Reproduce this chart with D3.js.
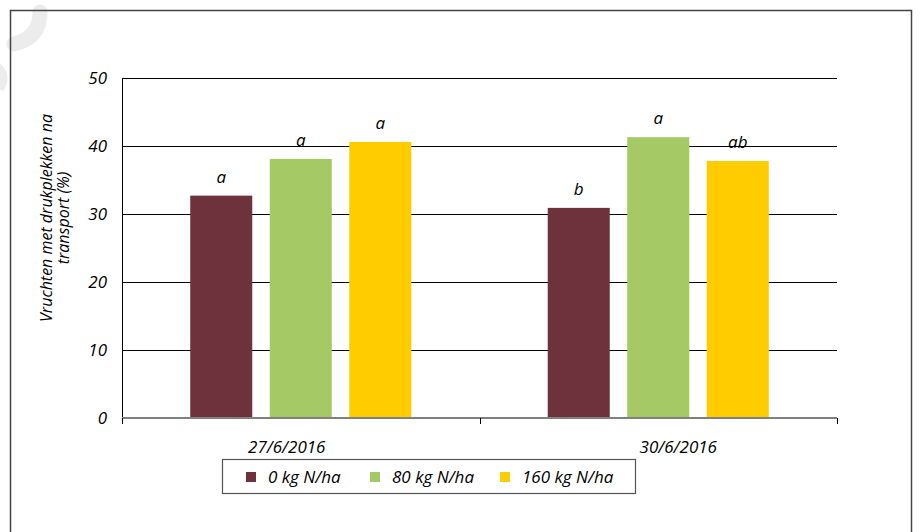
<!DOCTYPE html>
<html>
<head>
<meta charset="utf-8">
<script src="https://cdn.jsdelivr.net/npm/d3@7"></script>
<style>
  body { margin: 0; background: #fff; }
  svg text { font-family: "Open Sans", sans-serif; font-style: italic; fill: #000; }
</style>
</head>
<body>
<svg id="chart" width="922" height="532"></svg>
<script>
// data
const dates = ["27/6/2016", "30/6/2016"];
const series = ["0 kg N/ha", "80 kg N/ha", "160 kg N/ha"];
const colors = ["#6d323b", "#a5c965", "#ffcc00"];
const values = [
    [32.7, 38.1, 40.6],   // 27/6/2016
    [30.9, 41.3, 37.8]    // 30/6/2016
];
const letters = [
    ["a", "a", "a"],
    ["b", "a", "ab"]
];
const yTicks = [0, 10, 20, 30, 40, 50];

const fs = 17;
const svg = d3.select("#chart");

// light watermark in the corner
svg.append("path")
    .attr("d", "M 40 12 Q 40 38 14 44")
    .attr("fill", "none").attr("stroke", "#ececec")
    .attr("stroke-width", 15).attr("stroke-linecap", "round");
svg.append("path")
    .attr("d", "M -4 68 Q 6 76 -2 88")
    .attr("fill", "none").attr("stroke", "#ececec")
    .attr("stroke-width", 12);

// outer frame
svg.append("rect")
    .attr("x", 10.5).attr("y", 10.5)
    .attr("width", 901).attr("height", 540)
    .attr("fill", "none").attr("stroke", "#444").attr("stroke-width", 1.5);

const plotL = 122, plotR = 837, plotT = 78, plotB = 418;

const y = d3.scaleLinear().domain([0, 50]).range([plotB, plotT]);
const x0 = d3.scaleBand().domain(dates).range([plotL, plotR]);
const x1 = d3.scaleBand().domain(series).range([0, x0.bandwidth()])
    .paddingInner(0.22).paddingOuter(0.858);

// y axis with gridlines
const yAxis = svg.append("g")
    .attr("transform", `translate(${plotL},0)`)
    .call(d3.axisLeft(y).tickValues(yTicks).tickSize(-(plotR - plotL)).tickPadding(15));
yAxis.select(".domain").remove();
yAxis.selectAll(".tick line").attr("stroke", "#000").attr("stroke-width", 1);
yAxis.selectAll(".tick text")
    .attr("font-size", fs).attr("font-style", "italic")
    .attr("font-family", "Open Sans, sans-serif").attr("fill", "#000");

svg.append("line")
    .attr("x1", plotL + 0.5).attr("x2", plotL + 0.5)
    .attr("y1", plotT).attr("y2", plotB + 6)
    .attr("stroke", "#000");

// bars
const groups = svg.selectAll(".grp").data(values).join("g")
    .attr("class", "grp")
    .attr("transform", (d, i) => `translate(${x0(dates[i])},0)`);

groups.selectAll("rect").data(d => d).join("rect")
    .attr("x", (d, j) => x1(series[j]))
    .attr("y", d => y(d))
    .attr("width", x1.bandwidth())
    .attr("height", d => y(0) - y(d))
    .attr("fill", (d, j) => colors[j]);

groups.selectAll(".lbl").data((d, i) => d.map((v, j) => ({v, j, t: letters[i][j]}))).join("text")
    .attr("class", "lbl")
    .attr("x", d => x1(series[d.j]) + x1.bandwidth() / 2)
    .attr("y", d => y(d.v) - 13)
    .attr("text-anchor", "middle")
    .attr("font-size", fs)
    .text(d => d.t);

// x axis baseline
svg.append("line")
    .attr("x1", plotL).attr("x2", plotR)
    .attr("y1", plotB).attr("y2", plotB)
    .attr("stroke", "#808080").attr("stroke-width", 2);

const bounds = [plotL, plotL + x0.bandwidth(), plotR];
svg.selectAll(".xtick").data(bounds).join("line")
    .attr("class", "xtick")
    .attr("x1", d => Math.round(d) + 0.5).attr("x2", d => Math.round(d) + 0.5)
    .attr("y1", plotB).attr("y2", plotB + 6)
    .attr("stroke", "#000");

const labelShift = [-14, 20];
svg.selectAll(".xlab").data(dates).join("text")
    .attr("class", "xlab")
    .attr("x", (d, i) => x0(d) + x0.bandwidth() / 2 + labelShift[i])
    .attr("y", 453)
    .attr("text-anchor", "middle")
    .attr("font-size", fs)
    .text(d => d);

// y title
const yt = svg.append("text")
    .attr("transform", "translate(52,218) rotate(-90)")
    .attr("text-anchor", "middle")
    .attr("font-size", 16);
yt.append("tspan").attr("x", 0).attr("y", 0).text("Vruchten met drukplekken na");
yt.append("tspan").attr("x", 0).attr("y", 17).text("transport (%)");

// legend
const lg = svg.append("g");
lg.append("rect")
    .attr("x", 222.5).attr("y", 459.5)
    .attr("width", 413).attr("height", 34)
    .attr("fill", "#fff").attr("stroke", "#555").attr("stroke-width", 1.2);
const legX = [246, 370, 500];
const item = lg.selectAll(".item").data(series).join("g")
    .attr("class", "item")
    .attr("transform", (d, i) => `translate(${legX[i]},472)`);
item.append("rect")
    .attr("width", 10).attr("height", 10)
    .attr("fill", (d, i) => colors[i]);
item.append("text")
    .attr("x", 22).attr("y", 11)
    .attr("font-size", fs)
    .text(d => d);
</script>
</body>
</html>
